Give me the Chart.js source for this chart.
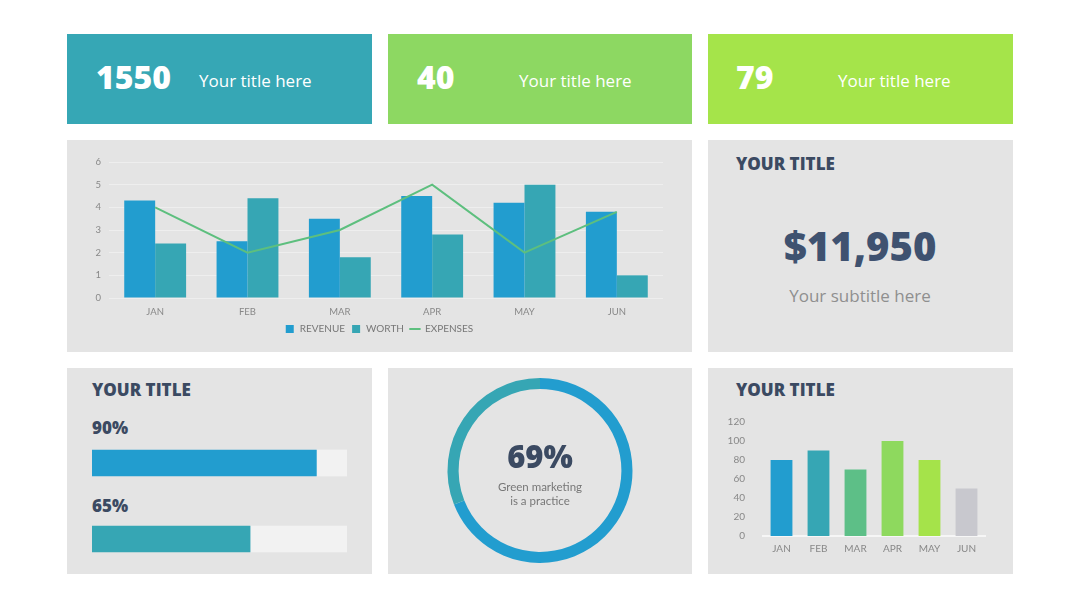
<!DOCTYPE html>
<html>
<head>
<meta charset="utf-8">
<script src="https://cdn.jsdelivr.net/npm/chart.js@4.4.0/dist/chart.umd.min.js"></script>
<style>
  body { margin: 0; width: 1080px; height: 608px; background: #fff; position: relative; overflow: hidden; font-family: Lato, sans-serif; }
  .panel { position: absolute; background: #e4e4e4; }
  .t { position: absolute; transform: translateY(-50%); line-height: 1; white-space: nowrap; }
  .c { transform: translate(-50%, -50%); text-align: center; }
  .kpi { font-family: "Open Sans", sans-serif; font-weight: 800; font-size: 32px; color: #fff; }
  .kpiLabel { font-family: "Open Sans", sans-serif; font-weight: 400; font-size: 17px; color: #fff; }
  .head { font-family: "Open Sans", sans-serif; font-weight: 800; font-size: 17px; color: #3b4a62; }
  canvas { position: absolute; }
</style>
</head>
<body>
<div class="panel" style="left:67px;top:34px;width:305px;height:90px;background:#36a7b5"></div>
<div class="panel" style="left:388px;top:34px;width:304px;height:90px;background:#8dd862"></div>
<div class="panel" style="left:708px;top:34px;width:305px;height:90px;background:#a5e44a"></div>
<div class="panel" style="left:67px;top:140px;width:625px;height:212px"></div>
<div class="panel" style="left:708px;top:140px;width:305px;height:212px"></div>
<div class="panel" style="left:67px;top:368px;width:305px;height:206px"></div>
<div class="panel" style="left:388px;top:368px;width:304px;height:206px"></div>
<div class="panel" style="left:708px;top:368px;width:305px;height:206px"></div>

<div id="kpis"></div>

<div class="t head" style="left:736px;top:163px">YOUR TITLE</div>
<div class="t c" style="left:860px;top:246px;font-family:'Open Sans',sans-serif;font-weight:800;font-size:40px;color:#3f5270">$11,950</div>
<div class="t c" style="left:860px;top:295px;font-family:'Open Sans',sans-serif;font-size:17px;color:#8f8f8f">Your subtitle here</div>

<div class="t head" style="left:92px;top:389px">YOUR TITLE</div>
<div id="progLabels"></div>

<div class="t head" style="left:736px;top:389px">YOUR TITLE</div>

<canvas id="mainChart" width="625" height="212" style="left:67px;top:140px"></canvas>
<canvas id="progChart" width="305" height="232" style="left:67px;top:368px"></canvas>
<canvas id="donutChart" width="304" height="206" style="left:388px;top:368px"></canvas>
<canvas id="monthChart" width="305" height="206" style="left:708px;top:368px"></canvas>

<div class="t c" style="left:540px;top:456px;font-family:'Open Sans',sans-serif;font-weight:800;font-size:31px;color:#3b4a62">69%</div>
<div class="t c" style="left:540px;top:494px;font-size:11.5px;color:#777;line-height:14px">Green marketing<br>is a practice</div>

<script>
const months = ["JAN", "FEB", "MAR", "APR", "MAY", "JUN"];
const revenue = [4.3, 2.5, 3.5, 4.5, 4.2, 3.8];
const worth = [2.4, 4.4, 1.8, 2.8, 5.0, 1.0];
const expenses = [4, 2, 3, 5, 2, 3.8];

const monthlyValues = [80, 90, 70, 100, 80, 50];

const progressLabels = ["90%", "65%"];
const progressValues = [88, 62];

const donutValues = [69, 31];

const kpiValues = ["1550", "40", "79"];
const kpiTitles = ["Your title here", "Your title here", "Your title here"];

Chart.defaults.font.family = "Lato, sans-serif";
Chart.defaults.color = "#888";
Chart.defaults.animation = false;

// kpi boxes
const kpiX = [96, 417, 736];
const kpiLabelX = [199, 519, 838];
let kpiHtml = "";
for (let i = 0; i < kpiValues.length; i++) {
    kpiHtml += '<div class="t kpi" style="left:' + kpiX[i] + 'px;top:77px">' + kpiValues[i] + '</div>';
    kpiHtml += '<div class="t kpiLabel" style="left:' + kpiLabelX[i] + 'px;top:80px">' + kpiTitles[i] + '</div>';
}
document.getElementById("kpis").innerHTML = kpiHtml;

let progHtml = "";
const progY = [427, 505];
for (let i = 0; i < progressLabels.length; i++) {
    progHtml += '<div class="t head" style="left:92px;top:' + progY[i] + 'px;font-size:17px">' + progressLabels[i] + '</div>';
}
document.getElementById("progLabels").innerHTML = progHtml;

// main combo chart
new Chart(document.getElementById("mainChart"), {
    type: "bar",
    data: {
        labels: months,
        datasets: [
            { label: "REVENUE", data: revenue, backgroundColor: "#229dcf", categoryPercentage: 0.67, barPercentage: 1, pointStyle: "rect" },
            { label: "WORTH", data: worth, backgroundColor: "#36a6b4", categoryPercentage: 0.67, barPercentage: 1, pointStyle: "rect" },
            { type: "line", label: "EXPENSES", data: expenses, borderColor: "#5dbf7e", backgroundColor: "#5dbf7e", borderWidth: 2, pointRadius: 0, tension: 0, pointStyle: "line", order: -1 }
        ]
    },
    options: {
        responsive: false,
        layout: { padding: { top: 22, right: 29, bottom: 8, left: 28 } },
        plugins: {
            tooltip: { enabled: false },
            legend: {
                position: "bottom",
                labels: {
                    usePointStyle: true, boxWidth: 10, boxHeight: 8, padding: 6, color: "#777", font: { size: 10 },
                    sort: (a, b) => a.datasetIndex - b.datasetIndex
                }
            }
        },
        scales: {
            x: {
                grid: { display: false, drawTicks: false },
                border: { display: false },
                ticks: { padding: 8, color: "#888", font: { size: 9.5 } },
                afterFit: s => { s.height = 20; }
            },
            y: {
                min: 0, max: 6,
                ticks: { stepSize: 1, padding: 8, color: "#888", font: { size: 9.5 } },
                grid: { color: "#eeeeee", drawTicks: false },
                border: { display: false },
                afterFit: s => { s.width = 14; }
            }
        }
    }
});

// progress bars
new Chart(document.getElementById("progChart"), {
    type: "bar",
    data: {
        labels: progressLabels,
        datasets: [
            { data: progressValues, backgroundColor: ["#229dcf", "#36a6b4"], barThickness: 26 },
            { data: progressValues.map(v => 100 - v), backgroundColor: "#f2f2f2", barThickness: 26 }
        ]
    },
    options: {
        responsive: false,
        indexAxis: "y",
        layout: { padding: { top: 57, right: 25, bottom: 23, left: 25 } },
        plugins: { legend: { display: false }, tooltip: { enabled: false } },
        scales: {
            x: { display: false, stacked: true, min: 0, max: 100 },
            y: { display: false, stacked: true }
        }
    }
});

// donut
new Chart(document.getElementById("donutChart"), {
    type: "doughnut",
    data: {
        labels: ["Green", "Other"],
        datasets: [{ data: donutValues, backgroundColor: ["#229dcf", "#36a6b4"], borderWidth: 0 }]
    },
    options: {
        responsive: false,
        cutout: "88%",
        layout: { padding: { top: 10, bottom: 11 } },
        plugins: { legend: { display: false }, tooltip: { enabled: false } }
    }
});

// monthly bars
new Chart(document.getElementById("monthChart"), {
    type: "bar",
    data: {
        labels: months,
        datasets: [{
            data: monthlyValues,
            backgroundColor: ["#229dcf", "#36a6b4", "#5dbf87", "#8ed95e", "#a5e34a", "#c8c8ce"],
            categoryPercentage: 0.59, barPercentage: 1
        }]
    },
    options: {
        responsive: false,
        layout: { padding: { top: 54, right: 28, bottom: 17, left: 0 } },
        plugins: { legend: { display: false }, tooltip: { enabled: false } },
        scales: {
            x: {
                grid: { display: false, drawTicks: false },
                border: { display: true, color: "#f6f6f6", width: 2 },
                ticks: { padding: 7, color: "#888", font: { size: 10 } },
                afterFit: s => { s.height = 21; }
            },
            y: {
                min: 0, max: 120,
                ticks: { stepSize: 20, padding: 10, color: "#888", font: { size: 10 } },
                grid: { display: false },
                border: { display: false },
                afterFit: s => { s.width = 55; }
            }
        }
    }
});
</script>
</body>
</html>
